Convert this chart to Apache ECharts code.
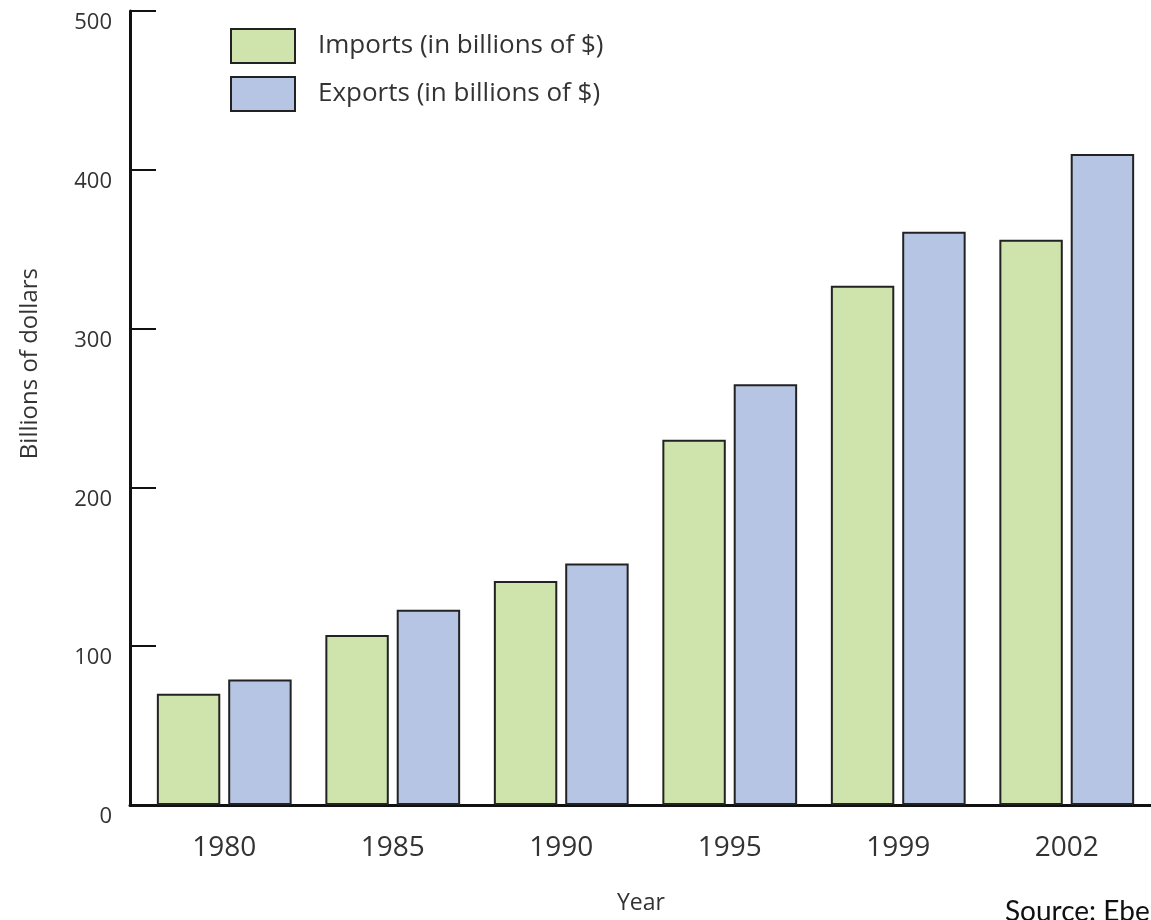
<!DOCTYPE html>
<html>
<head>
<meta charset="utf-8">
<script src="https://cdn.jsdelivr.net/npm/echarts@6/dist/echarts.min.js"></script>
<style>
    html, body { margin: 0; padding: 0; background: #fff; }
    #trade_chart { width: 1151px; height: 920px; }
</style>
</head>
<body>
<div id="trade_chart"></div>
<script>
// years on the x axis
var years = ['1980', '1985', '1990', '1995', '1999', '2002'];
// billions of dollars
var imports = [70, 107, 141, 230, 327, 356];
var exports = [79, 123, 152, 265, 361, 410];
var yTicks = [0, 100, 200, 300, 400, 500];

var fontMain = '"Open Sans", "Noto Sans", sans-serif';
var textColor = '#333';

var chart = echarts.init(document.getElementById('trade_chart'));
var option = {
    backgroundColor: '#fff',
    animation: false,
    legend: {
        orient: 'vertical',
        left: 225,
        top: 23,
        itemWidth: 64,
        itemHeight: 34,
        itemGap: 12,
        icon: 'rect',
        textStyle: { fontFamily: fontMain, fontSize: 26, color: textColor, padding: [0, 0, 0, 18] },
        data: ['Imports (in billions of $)', 'Exports (in billions of $)']
    },
    grid: [
        { left: 140, top: 11, width: 1019, height: 794 },
        // only there to carry the baseline back to the y axis
        { left: 130, top: 11, width: 1030, height: 794 }
    ],
    xAxis: [{
        type: 'category',
        gridIndex: 0,
        data: years,
        axisLine: { lineStyle: { color: '#111', width: 3 } },
        axisTick: { show: false },
        axisLabel: { margin: 29, fontFamily: fontMain, fontSize: 28, color: textColor }
    }, {
        type: 'category',
        gridIndex: 1,
        data: years,
        axisLine: { lineStyle: { color: '#111', width: 3 } },
        axisTick: { show: false },
        axisLabel: { show: false }
    }],
    yAxis: [{
        type: 'value',
        gridIndex: 0,
        min: yTicks[0],
        max: yTicks[yTicks.length - 1],
        interval: 100,
        offset: 10,
        axisLine: { show: true, lineStyle: { color: '#111', width: 3 } },
        axisTick: { show: true, inside: true, length: 26, lineStyle: { color: '#111', width: 2 } },
        splitLine: { show: false },
        axisLabel: {
            margin: 18,
            fontFamily: fontMain,
            fontSize: 22,
            color: textColor,
            verticalAlign: 'top',
            lineHeight: 24
        }
    }, {
        type: 'value',
        gridIndex: 1,
        min: 0,
        max: 500,
        show: false
    }],
    graphic: [
        {
            type: 'text', left: 18, top: 268, rotation: Math.PI / 2,
            style: { text: 'Billions of dollars', font: '24px ' + fontMain, fill: textColor }
        },
        {
            type: 'text', left: 617, top: 892,
            style: { text: 'Year', font: '23px ' + fontMain, fill: textColor }
        },
        {
            type: 'text', left: 1005, top: 898,
            style: { text: 'Source: Ebel', font: '28px Lato, "Liberation Sans", sans-serif', fill: '#111' }
        }
    ],
    series: [{
        name: 'Imports (in billions of $)',
        type: 'bar',
        xAxisIndex: 0,
        yAxisIndex: 0,
        data: imports,
        barGap: '12.5%',
        barCategoryGap: '20%',
        itemStyle: { color: '#cfe3ad', borderColor: '#222', borderWidth: 2 }
    }, {
        name: 'Exports (in billions of $)',
        type: 'bar',
        xAxisIndex: 0,
        yAxisIndex: 0,
        data: exports,
        barGap: '12.5%',
        barCategoryGap: '20%',
        itemStyle: { color: '#b7c5e5', borderColor: '#222', borderWidth: 2 }
    }]
};
chart.setOption(option);
window.addEventListener('resize', function () {
    chart.resize();
});
</script>
</body>
</html>
